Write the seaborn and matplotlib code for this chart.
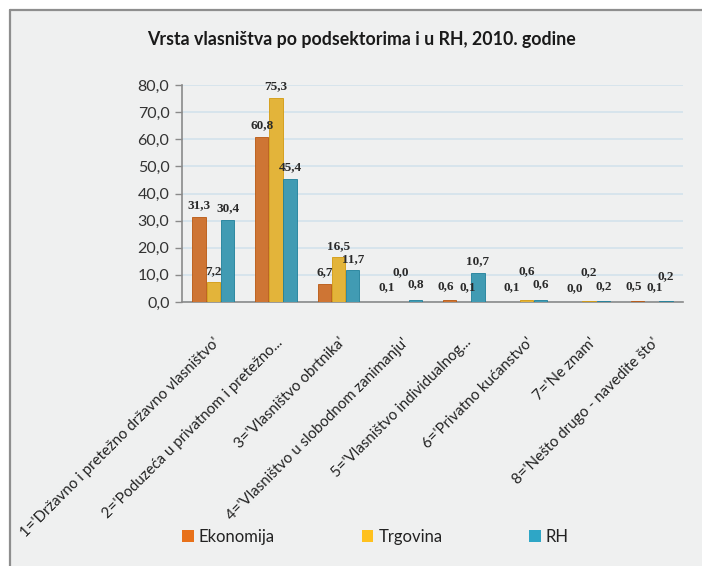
import matplotlib
matplotlib.use("Agg")
import matplotlib.pyplot as plt
import matplotlib.lines as mlines
import matplotlib.patches as mpatches
import seaborn as sns
import pandas as pd
import numpy as np

categories = [
    "1='Državno i pretežno državno vlasništvo'",
    "2='Poduzeća u privatnom i pretežno...",
    "3='Vlasništvo obrtnika'",
    "4='Vlasništvo u slobodnom zanimanju'",
    "5='Vlasništvo individualnog...",
    "6='Privatno kućanstvo'",
    "7='Ne znam'",
    "8='Nešto drugo - navedite što'",
]
series_names = ["Ekonomija", "Trgovina", "RH"]
ekonomija = [31.3, 60.8, 6.7, 0.1, 0.6, 0.1, 0.0, 0.5]
trgovina = [7.2, 75.3, 16.5, 0.0, 0.1, 0.6, 0.2, 0.1]
rh = [30.4, 45.4, 11.7, 0.8, 10.7, 0.6, 0.2, 0.2]
y_ticks = [0, 10, 20, 30, 40, 50, 60, 70, 80]
title = "Vrsta vlasništva po podsektorima i u RH, 2010. godine"

colors = ["#E8711A", "#FFC11E", "#2EA6C6"]
edges = ["#B8560F", "#D39A0E", "#1E7F9A"]

rows = []
for name, vals in zip(series_names, [ekonomija, trgovina, rh]):
    for c, v in zip(categories, vals):
        rows.append({"cat": c, "series": name, "value": v})
df = pd.DataFrame(rows)

sns.set_theme(style="white")
plt.rcParams["font.family"] = ["Lato", "DejaVu Sans"]

W, H = 702, 566
fig = plt.figure(figsize=(W / 100, H / 100), dpi=100)
fig.patch.set_facecolor("white")

bg = mpatches.Rectangle((10 / W, 0), 1 - 10 / W, 1 - 10 / H, transform=fig.transFigure,
                        facecolor="#EFF0F0", edgecolor="none", zorder=-10)
fig.patches.append(bg)
fig.lines.append(mlines.Line2D([10 / W, 10 / W], [0, 1 - 10 / H], transform=fig.transFigure,
                               color="#8E8E8E", lw=1.6, zorder=-5))
fig.lines.append(mlines.Line2D([10 / W, 1], [1 - 10 / H, 1 - 10 / H], transform=fig.transFigure,
                               color="#8E8E8E", lw=1.6, zorder=-5))

left, right = 182 / W, 683 / W
top, bottom = 1 - 85 / H, 1 - 302 / H
ax = fig.add_axes([left, bottom, right - left, top - bottom])
ax.set_facecolor("none")

sns.barplot(data=df, x="cat", y="value", hue="series", hue_order=series_names,
            palette=colors, width=0.68, gap=0.06, ax=ax, legend=False, zorder=3)

for i, cont in enumerate(ax.containers):
    for p in cont.patches:
        p.set_edgecolor(edges[i])
        p.set_linewidth(0.6)
    for j, (p, v) in enumerate(zip(cont.patches, cont.datavalues)):
        x = p.get_x() + p.get_width() / 2
        dx, dy = 0, 4
        if v < 2:
            # stagger small labels like the 3D original
            if i == 1 and ekonomija[j] < 0.3:
                dy = 17
            elif i == 2 and trgovina[j] < 0.3 and ekonomija[j] >= 0.3:
                dy = 14
            elif i == 2:
                dy = 7
            else:
                dy = 6
            if ekonomija[j] >= 0.3 and trgovina[j] < 0.3:
                dx = -2.5 if i == 0 else (2.5 if i == 1 else 0)
        ax.annotate(f"{v:.1f}".replace(".", ","), (x, v), xytext=(dx, dy),
                    textcoords="offset points", ha="center", va="bottom",
                    fontsize=9.5, fontweight="bold", color="#2a2a2a",
                    family=["Liberation Serif", "DejaVu Serif"], zorder=5)

ax.set_ylim(0, 80)
ax.set_xlim(-0.5, len(categories) - 0.5)
ax.set_yticks(y_ticks)
ax.set_yticklabels([f"{t:.1f}".replace(".", ",") for t in y_ticks], fontsize=11.5, color="#333333")
ax.yaxis.grid(True, color="#D3E2EC", lw=1.2, zorder=0)
ax.set_axisbelow(True)

ax.set_xticks(range(len(categories)))
ax.set_xticklabels(categories, rotation=45, ha="right", rotation_mode="anchor",
                   fontsize=10.8, color="#222222")
ax.tick_params(axis="x", which="major", length=0, pad=24)
ax.set_xticks(np.arange(-0.5, len(categories), 1.0), minor=True)
ax.tick_params(axis="x", which="minor", length=5, color="#8A8A8A", width=1, direction="out")
ax.tick_params(axis="y", length=5, color="#8A8A8A", width=1, direction="out", left=True, pad=4)

for s in ["top", "right"]:
    ax.spines[s].set_visible(False)
for s in ["left", "bottom"]:
    ax.spines[s].set_color("#8A8A8A")
    ax.spines[s].set_linewidth(1.2)

ax.set_xlabel("")
ax.set_ylabel("")

fig.text(0.515, 1 - 40 / H, title, ha="center", va="center", fontsize=12.8,
         fontweight="bold", color="#1a1a1a")

handles = [mpatches.Patch(facecolor=c, edgecolor="none", label=n) for c, n in zip(colors, series_names)]
fig.legend(handles=handles, loc="center", bbox_to_anchor=(0.535, 1 - 537 / H), ncol=3,
           frameon=False, fontsize=12, handlelength=0.7, handleheight=0.7,
           handletextpad=0.3, columnspacing=5.2, labelcolor="#222222")

fig.savefig("out.png", dpi=100, facecolor=fig.get_facecolor())
